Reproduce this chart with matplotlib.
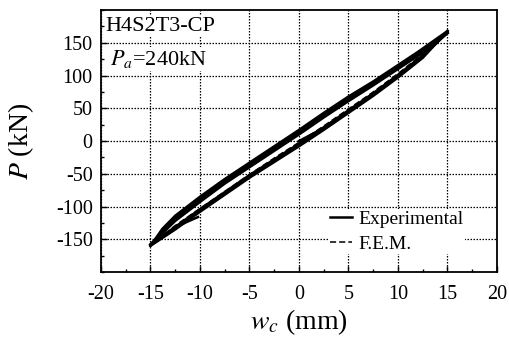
import matplotlib
matplotlib.use("Agg")
import matplotlib.pyplot as plt
from matplotlib.ticker import MultipleLocator

plt.rcParams['font.family'] = ['Liberation Serif', 'DejaVu Serif']
plt.rcParams['mathtext.fontset'] = 'stix'
plt.rcParams['axes.unicode_minus'] = False

# Experimental hysteresis (displacement mm, load kN)
exp_x_load0 = [0, 2.5, 5, 7.5, 10, 12.5, 15]
exp_p_load0 = [0, 20, 46, 72, 99, 130, 168]

exp_x_up = [15, 13.5, 12, 10, 7.5, 5, 2.5, 0, -2.5, -5, -7.5, -10, -12.5, -13.8, -15]
exp_p_up1 = [168, 152, 136, 116, 91, 68, 43, 17, -8, -33, -58, -85, -114, -134, -160]
exp_p_up2 = [166, 150, 134, 114, 89, 65, 40, 14, -11, -36, -61, -88, -117, -137, -159]
exp_p_up3 = [165, 148, 132, 112, 87, 63, 38, 12, -13, -38, -63, -91, -120, -139, -158]
exp_p_up4 = [165, 147, 130, 110, 85, 61, 36, 10, -15, -40, -65, -93, -122, -141, -158]

exp_x_low = [-15, -12.5, -10, -7.5, -5, -2.5, 0, 2.5, 5, 7.5, 10, 12.5, 15]
exp_p_low1 = [-160, -135, -108, -82, -56, -32, -8, 17, 43, 69, 97, 127, 168]
exp_p_low2 = [-159, -133, -106, -80, -54, -30, -6, 19, 45, 71, 99, 129, 166]
exp_p_low3 = [-158, -131, -104, -78, -52, -28, -4, 21, 47, 73, 101, 131, 165]

exp_x_end = [-15, -13.5, -12, -10.2]
exp_p_end = [-158, -142, -128, -116]

# F.E.M. hysteresis
fem_x_up = [15, 12.5, 10, 7.5, 5, 2.5, 0, -2.5, -5, -7.5, -10, -12.5, -15]
fem_p_up = [165, 138, 110, 86, 62, 38, 13, -12, -37, -62, -89, -119, -159]
fem_x_low = [-15, -12.5, -10, -7.5, -5, -2.5, 0, 2.5, 5, 7.5, 10, 12.5, 15]
fem_p_low = [-159, -129, -103, -77, -51, -26, -2, 23, 49, 75, 103, 133, 165]

x_ticks = [-20, -15, -10, -5, 0, 5, 10, 15, 20]
y_ticks = [-150, -100, -50, 0, 50, 100, 150]

fig = plt.figure(figsize=(5.10, 3.47), dpi=100)
ax = fig.add_axes([0.198, 0.216, 0.7765, 0.755])

lw_e = 1.8
ax.plot(exp_x_load0, exp_p_load0, color='black', lw=lw_e, label='Experimental')
for pu in (exp_p_up1, exp_p_up2, exp_p_up3, exp_p_up4):
    ax.plot(exp_x_up, pu, color='black', lw=lw_e)
for pl in (exp_p_low1, exp_p_low2, exp_p_low3):
    ax.plot(exp_x_low, pl, color='black', lw=lw_e)
ax.plot(exp_x_end, exp_p_end, color='black', lw=lw_e)

ax.plot(fem_x_up, fem_p_up, color='black', lw=1.1, ls=(0, (4, 2)), label='F.E.M.')
ax.plot(fem_x_low, fem_p_low, color='black', lw=1.1, ls=(0, (4, 2)))

ax.set_xlim(-20, 20)
ax.set_ylim(-200, 200)
ax.set_xticks(x_ticks)
ax.set_yticks(y_ticks)
ax.xaxis.set_minor_locator(MultipleLocator(2.5))
ax.yaxis.set_minor_locator(MultipleLocator(25))
ax.tick_params(which='both', direction='in', width=1.0)
ax.tick_params(which='major', length=4)
ax.tick_params(which='minor', length=2.5)
ax.tick_params(axis='x', which='major', labelsize=14.5, pad=9)
ax.tick_params(axis='y', which='major', labelsize=14.5, pad=6)
for s in ax.spines.values():
    s.set_linewidth(1.3)

ax.grid(True, which='major', color='black', ls=(0, (1.2, 1.2)), lw=0.9)
ax.set_axisbelow(True)

ax.set_xlabel('$w_c$ (mm)', fontsize=20, labelpad=3)
ax.set_ylabel('$P$ (kN)', fontsize=20, labelpad=14)

ax.text(0.012, 0.975, 'H4S2T3-CP', transform=ax.transAxes, fontsize=16,
        va='top', ha='left', bbox=dict(facecolor='white', edgecolor='none', pad=0.5))
ax.text(0.022, 0.855, '$P_a$=240kN', transform=ax.transAxes, fontsize=16,
        va='top', ha='left', bbox=dict(facecolor='white', edgecolor='none', pad=0.5))

leg = ax.legend(loc='lower right', bbox_to_anchor=(0.945, 0.03), frameon=True,
                fontsize=14, handlelength=1.1, handletextpad=0.35,
                borderpad=0.1, labelspacing=0.35)
leg.get_frame().set_edgecolor('none')
leg.get_frame().set_facecolor('white')
leg.get_frame().set_alpha(1)

fig.savefig('out.png', dpi=100)
